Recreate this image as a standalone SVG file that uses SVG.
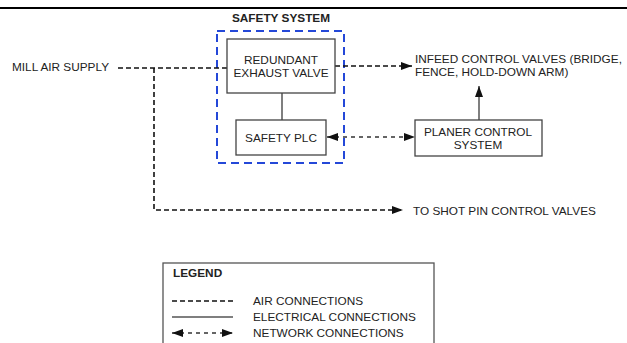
<svg xmlns="http://www.w3.org/2000/svg" width="627" height="343" viewBox="0 0 627 343">
  <defs>
    <marker id="ah" viewBox="0 0 11 8" refX="11" refY="4" markerWidth="11" markerHeight="8" markerUnits="userSpaceOnUse" orient="auto-start-reverse">
      <path d="M0,0 L11,4 L0,8 Z" fill="#111"/>
    </marker>
  </defs>
  <style>
    text { font-family: "Liberation Sans", Arial, sans-serif; font-size: 11.8px; fill: #222; }
    .b { font-weight: bold; font-size: 11.8px; }
    .c { text-anchor: middle; }
    .box { fill: #fff; stroke: #444; stroke-width: 1.3; }
    .air { fill: none; stroke: #111; stroke-width: 1.6; stroke-dasharray: 5 3; }
    .net { fill: none; stroke: #333; stroke-width: 1.3; stroke-dasharray: 4 4; }
    .elec { fill: none; stroke: #555; stroke-width: 1.5; }
    .sys { fill: none; stroke: #2448d8; stroke-width: 2; stroke-dasharray: 8 5; }
  </style>
  <rect width="627" height="343" fill="#fff"/>
  <line x1="0" y1="8" x2="627" y2="8" stroke="#000" stroke-width="2.2"/>

  <g id="safety-system">
    <rect class="sys" x="217" y="31" width="127" height="132"/>
    <text class="b c" x="281" y="22">SAFETY SYSTEM</text>
  </g>

  <g id="connectors">
    <path class="air" d="M118,68 H227"/>
    <path class="air" d="M154,68 V210 H403" marker-end="url(#ah)"/>
    <path class="air" d="M335,66 H412" marker-end="url(#ah)"/>
    <path class="elec" d="M282,93 V120"/>
    <path class="elec" d="M479,120 V86" marker-end="url(#ah)"/>
    <path class="net" d="M327,137 H415" marker-start="url(#ah)" marker-end="url(#ah)"/>
  </g>

  <g id="mill-air-supply">
    <text x="12" y="71">MILL AIR SUPPLY</text>
  </g>

  <g id="exhaust-valve">
    <rect class="box" x="227" y="39" width="108" height="54"/>
    <text class="c" x="281" y="64">REDUNDANT</text>
    <text class="c" x="281" y="77">EXHAUST VALVE</text>
  </g>

  <g id="safety-plc">
    <rect class="box" x="236" y="120" width="90" height="35"/>
    <text class="c" x="281" y="142">SAFETY PLC</text>
  </g>

  <g id="planer-control">
    <rect class="box" x="415" y="120" width="127" height="36"/>
    <text class="c" x="478" y="136">PLANER CONTROL</text>
    <text class="c" x="478" y="149">SYSTEM</text>
  </g>

  <g id="infeed-valves">
    <text x="415" y="63">INFEED CONTROL VALVES (BRIDGE,</text>
    <text x="415" y="76">FENCE, HOLD-DOWN ARM)</text>
  </g>

  <g id="shot-pin">
    <text x="413" y="215">TO SHOT PIN CONTROL VALVES</text>
  </g>

  <g id="legend">
    <rect x="163" y="263" width="271" height="90" fill="#fff" stroke="#555" stroke-width="1.3"/>
    <text class="b" x="173" y="277">LEGEND</text>
    <path class="air" d="M172,301 H233"/>
    <text x="253" y="305">AIR CONNECTIONS</text>
    <path class="elec" d="M172,317 H233"/>
    <text x="253" y="321">ELECTRICAL CONNECTIONS</text>
    <path class="net" d="M172,333 H233" marker-start="url(#ah)" marker-end="url(#ah)"/>
    <text x="253" y="337">NETWORK CONNECTIONS</text>
  </g>
</svg>
